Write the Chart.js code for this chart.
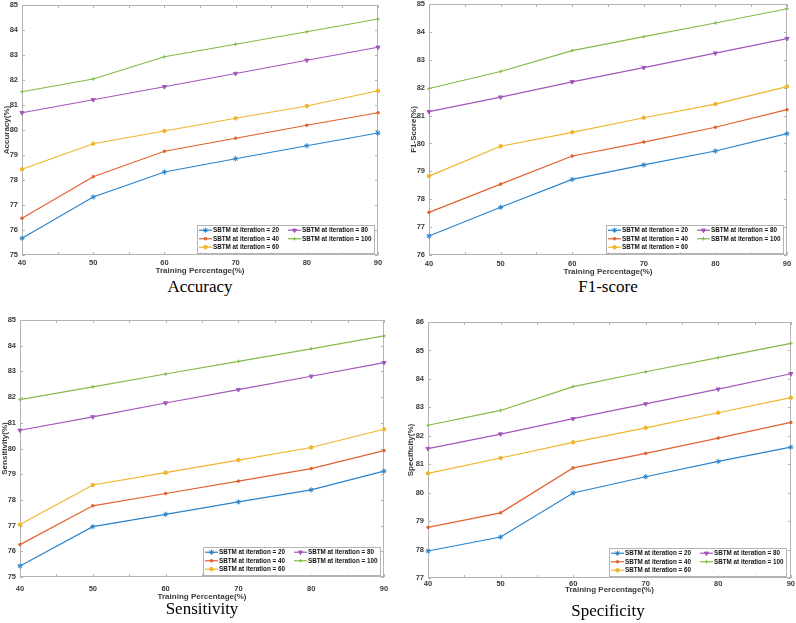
<!DOCTYPE html>
<html>
<head>
<meta charset="utf-8">
<script src="https://cdn.jsdelivr.net/npm/chart.js@4.4.1/dist/chart.umd.min.js"></script>
<style>
  body { margin: 0; background: #fff; }
  #page { position: relative; width: 796px; height: 623px; overflow: hidden; background: #fff; }
  #page canvas { position: absolute; }
  .caption {
    position: absolute; width: 200px; text-align: center;
    font: 17px/20px "Liberation Serif", "Times New Roman", serif; color: #000;
  }
</style>
</head>
<body>
<div id="page"></div>
<script>
// x values (training percentage) and series names
const trainingPct = [40, 50, 60, 70, 80, 90];
const iterationNames = [
  'SBTM at iteration = 20',
  'SBTM at iteration = 40',
  'SBTM at iteration = 60',
  'SBTM at iteration = 80',
  'SBTM at iteration = 100'
];

// Accuracy(%)
const accuracy20  = [75.67, 77.32, 78.32, 78.85, 79.37, 79.88];
const accuracy40  = [76.47, 78.13, 79.15, 79.67, 80.19, 80.69];
const accuracy60  = [78.43, 79.45, 79.96, 80.47, 80.96, 81.57];
const accuracy80  = [80.69, 81.21, 81.73, 82.26, 82.79, 83.31];
const accuracy100 = [81.53, 82.04, 82.93, 83.43, 83.93, 84.44];

// F1-Score(%)
const f1Score20  = [76.68, 77.71, 78.71, 79.23, 79.73, 80.35];
const f1Score40  = [77.53, 78.54, 79.55, 80.05, 80.58, 81.21];
const f1Score60  = [78.83, 79.90, 80.40, 80.92, 81.41, 82.04];
const f1Score80  = [81.14, 81.66, 82.21, 82.72, 83.24, 83.76];
const f1Score100 = [81.97, 82.58, 83.33, 83.83, 84.32, 84.83];

// Sensitivity(%)
const sensitivity20  = [75.43, 76.96, 77.44, 77.92, 78.39, 79.12];
const sensitivity40  = [76.26, 77.77, 78.25, 78.73, 79.22, 79.92];
const sensitivity60  = [77.04, 78.58, 79.06, 79.55, 80.04, 80.75];
const sensitivity80  = [80.71, 81.23, 81.77, 82.29, 82.81, 83.34];
const sensitivity100 = [81.90, 82.40, 82.90, 83.39, 83.88, 84.38];

// Specificity(%)
const specificity20  = [77.95, 78.44, 79.99, 80.56, 81.10, 81.60];
const specificity40  = [78.78, 79.29, 80.87, 81.38, 81.92, 82.47];
const specificity60  = [80.68, 81.22, 81.77, 82.28, 82.81, 83.34];
const specificity80  = [81.55, 82.06, 82.60, 83.12, 83.64, 84.18];
const specificity100 = [82.37, 82.89, 83.73, 84.25, 84.75, 85.25];

// matlab-ish line styles
const lineColors = ['#2a84cc', '#e2622f', '#f0b52c', '#a257bb', '#84ba48'];
const markers = [
  { pointStyle: 'star', radius: 2.6, rotation: 0 },
  { pointStyle: 'circle', radius: 1.3, rotation: 0 },
  { pointStyle: 'circle', radius: 1.8, rotation: 0 },
  { pointStyle: 'triangle', radius: 2.4, rotation: 180 },
  { pointStyle: 'cross', radius: 1.8, rotation: 0 }
];

const SANS = '"Liberation Sans", Arial, Helvetica, sans-serif';
const AXIS_GRAY = '#b4b4b4';
const TEXT_GRAY = '#3a3a3a';

// box + inward ticks on all four sides
const matlabBox = {
  id: 'matlabBox',
  beforeDatasetsDraw(chart) {
    const { ctx, chartArea: a, scales: { x, y } } = chart;
    ctx.save();
    ctx.strokeStyle = AXIS_GRAY;
    ctx.lineWidth = 1;
    ctx.strokeRect(Math.round(a.left) + 0.5, Math.round(a.top) + 0.5,
      Math.round(a.width) - 1, Math.round(a.height) - 1);
    ctx.beginPath();
    x.ticks.forEach(t => {
      const px = Math.round(x.getPixelForValue(t.value)) + 0.5;
      ctx.moveTo(px, a.bottom); ctx.lineTo(px, a.bottom - 3);
      ctx.moveTo(px, a.top); ctx.lineTo(px, a.top + 3);
    });
    y.ticks.forEach(t => {
      const py = Math.round(y.getPixelForValue(t.value)) + 0.5;
      ctx.moveTo(a.left, py); ctx.lineTo(a.left + 3, py);
      ctx.moveTo(a.right, py); ctx.lineTo(a.right - 3, py);
    });
    ctx.stroke();
    ctx.restore();
  }
};

// two-column legend in the lower right corner of the plot box
const cornerLegend = {
  id: 'cornerLegend',
  afterDraw(chart) {
    const { ctx, chartArea: a } = chart;
    const sets = chart.data.datasets;
    const cols = [[0, 1, 2], [3, 4]];
    const sample = 13, rowH = 8.5;
    ctx.save();
    ctx.font = 'bold 6.3px ' + SANS;
    const textW = cols.map(c => Math.max(...c.map(i => ctx.measureText(sets[i].label).width)));
    const colW = [sample + 1 + textW[0] + 9, sample + 1 + textW[1] + 3];
    const w = 2 + colW[0] + colW[1];
    const h = rowH * 3 + 2;
    const left = Math.round(a.right - 4 - w), top = Math.round(a.bottom - 3 - h);
    ctx.fillStyle = '#fff';
    ctx.fillRect(left, top, w, h);
    ctx.strokeStyle = AXIS_GRAY;
    ctx.lineWidth = 1;
    ctx.strokeRect(left + 0.5, top + 0.5, Math.round(w), Math.round(h));
    let cx = left + 2;
    cols.forEach((c, ci) => {
      c.forEach((i, r) => {
        const ds = sets[i];
        const cy = top + 1 + rowH * (r + 0.5);
        ctx.strokeStyle = ds.borderColor;
        ctx.fillStyle = ds.borderColor;
        ctx.lineWidth = 1.2;
        ctx.beginPath();
        ctx.moveTo(cx, cy); ctx.lineTo(cx + sample, cy);
        ctx.stroke();
        ctx.lineWidth = 1;
        Chart.helpers.drawPoint(ctx, {
          pointStyle: ds.pointStyle, radius: ds.pointRadius,
          rotation: ds.pointRotation, borderWidth: 1
        }, cx + sample / 2, cy);
        ctx.fillStyle = '#111';
        ctx.textBaseline = 'middle';
        ctx.fillText(ds.label, cx + sample + 1, cy + 0.3);
      });
      cx += colW[ci];
    });
    ctx.restore();
  }
};

// canvas placement: plot box = (yW, padTop) .. (w - padRight, h - xH) inside each canvas
const panels = [
  { yLabel: 'Accuracy(%)', caption: 'Accuracy', yMin: 75, yMax: 85,
    series: [accuracy20, accuracy40, accuracy60, accuracy80, accuracy100],
    cx: 0, cy: -4, w: 398, h: 280, yW: 22, padRight: 20, xH: 21,
    tickPad: 3, yTitlePad: 2.2, capX: 100, capY: 277 },
  { yLabel: 'F1-Score(%)', caption: 'F1-score', yMin: 76, yMax: 85,
    series: [f1Score20, f1Score40, f1Score60, f1Score80, f1Score100],
    cx: 398, cy: -5, w: 398, h: 282, yW: 31, padRight: 9, xH: 22,
    tickPad: 4, yTitlePad: 11.2, capX: 508, capY: 277 },
  { yLabel: 'Sensitivity(%)', caption: 'Sensitivity', yMin: 75, yMax: 85,
    series: [sensitivity20, sensitivity40, sensitivity60, sensitivity80, sensitivity100],
    cx: 0, cy: 311, w: 398, h: 291, yW: 20, padRight: 14, xH: 25,
    tickPad: 7, yTitlePad: 0.2, capX: 102, capY: 599 },
  { yLabel: 'Specificity(%)', caption: 'Specificity', yMin: 77, yMax: 86,
    series: [specificity20, specificity40, specificity60, specificity80, specificity100],
    cx: 398, cy: 313, w: 398, h: 282, yW: 30, padRight: 4, xH: 17,
    tickPad: 1, yTitlePad: 8.2, capX: 508, capY: 601 }
];

const page = document.getElementById('page');

panels.forEach(p => {
  const canvas = document.createElement('canvas');
  canvas.width = p.w;
  canvas.height = p.h;
  canvas.style.left = p.cx + 'px';
  canvas.style.top = p.cy + 'px';
  canvas.style.width = p.w + 'px';
  canvas.style.height = p.h + 'px';
  page.appendChild(canvas);

  const cap = document.createElement('div');
  cap.className = 'caption';
  cap.textContent = p.caption;
  cap.style.left = p.capX + 'px';
  cap.style.top = p.capY + 'px';
  page.appendChild(cap);

  const datasets = p.series.map((vals, i) => ({
    label: iterationNames[i],
    data: trainingPct.map((x, k) => ({ x, y: vals[k] })),
    borderColor: lineColors[i],
    backgroundColor: lineColors[i],
    pointBackgroundColor: lineColors[i],
    pointBorderColor: lineColors[i],
    borderWidth: 1.2,
    pointStyle: markers[i].pointStyle,
    pointRadius: markers[i].radius,
    pointRotation: markers[i].rotation,
    pointBorderWidth: 1,
    tension: 0,
    clip: false
  }));

  new Chart(canvas, {
    type: 'line',
    data: { datasets },
    options: {
      responsive: false,
      animation: false,
      devicePixelRatio: 1,
      layout: { padding: { top: 9, right: p.padRight, left: 0, bottom: 0 } },
      plugins: {
        legend: { display: false },
        tooltip: { enabled: false }
      },
      scales: {
        x: {
          type: 'linear',
          min: 40, max: 90,
          grid: { display: false, drawTicks: false },
          border: { display: false },
          ticks: {
            stepSize: 5, autoSkip: false, maxRotation: 0, padding: p.tickPad,
            color: TEXT_GRAY, font: { family: SANS, size: 7.5, weight: 'bold' },
            callback: v => (v % 10 === 0 ? v : '')
          },
          title: {
            display: true, text: 'Training Percentage(%)', color: TEXT_GRAY,
            padding: { top: 0, bottom: 0 },
            font: { family: SANS, size: 8, weight: 'bold' }
          },
          afterFit: s => { s.height = p.xH; }
        },
        y: {
          min: p.yMin, max: p.yMax,
          grid: { display: false, drawTicks: false },
          border: { display: false },
          ticks: {
            stepSize: 1, padding: 4, color: TEXT_GRAY,
            font: { family: SANS, size: 7.5, weight: 'bold' }
          },
          title: {
            display: true, text: p.yLabel, color: TEXT_GRAY,
            padding: { top: p.yTitlePad, bottom: 0 },
            font: { family: SANS, size: 8, weight: 'bold' }
          },
          afterFit: s => { s.width = p.yW; }
        }
      }
    },
    plugins: [matlabBox, cornerLegend]
  });
});
</script>
</body>
</html>
